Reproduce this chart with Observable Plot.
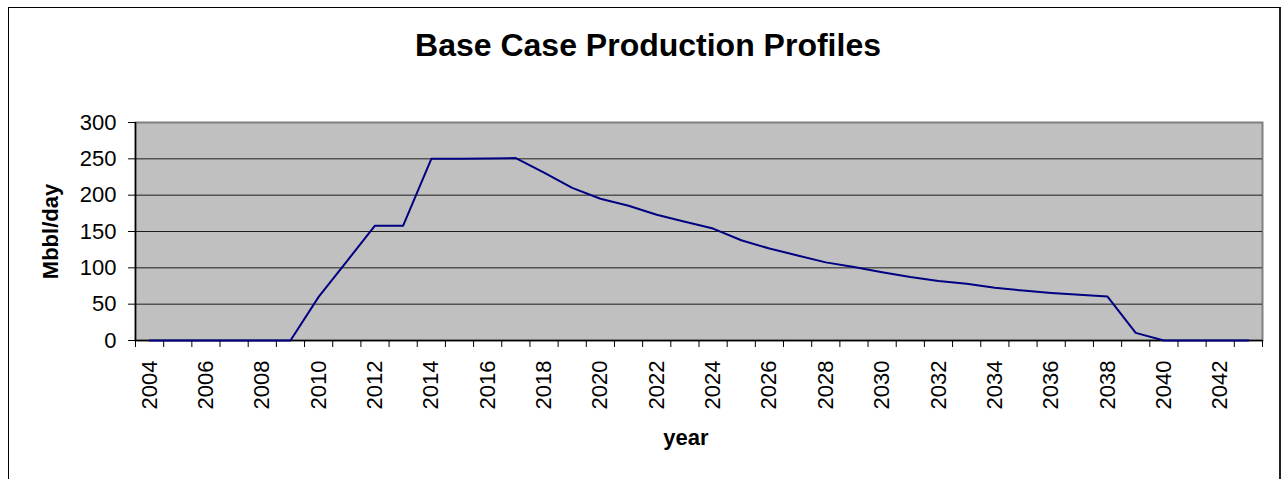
<!DOCTYPE html>
<html>
<head>
<meta charset="utf-8">
<script src="https://cdn.jsdelivr.net/npm/d3@7"></script>
<script src="https://cdn.jsdelivr.net/npm/@observablehq/plot@0.6"></script>
<style>
  html, body { margin: 0; padding: 0; background: #fff; overflow: hidden; }
  #wrap { position: relative; width: 1288px; height: 479px; }
  #border { position: absolute; left: 8px; top: 7px; width: 1273px; height: 500px;
            border-left: 1px solid #000; border-top: 1px solid #000; border-right: 2px solid #222; box-sizing: border-box; }
  #chart { position: absolute; left: 0; top: 0; }
</style>
</head>
<body>
<div id="wrap"><div id="border"></div><div id="chart"></div></div>
<script>
const years = [2004,2005,2006,2007,2008,2009,2010,2011,2012,2013,2014,2015,2016,2017,2018,2019,2020,2021,2022,2023,
               2024,2025,2026,2027,2028,2029,2030,2031,2032,2033,2034,2035,2036,2037,2038,2039,2040,2041,2042,2043];
const production = [0,0,0,0,0,0,60,109,158,158,250,250,250.5,251,231,210,195,185.5,173,163.5,
                    154,138,126.5,117,107.5,101,94,87.5,82,78,72.5,68.7,65.5,62.8,60.5,10.5,0,0,0,0];
const xLabelYears = [2004,2006,2008,2010,2012,2014,2016,2018,2020,2022,2024,2026,2028,2030,2032,2034,2036,2038,2040,2042];
const yTicks = [0,50,100,150,200,250,300];
const titleText = "Base Case Production Profiles";
const xLabel = "year";
const yLabel = "Mbbl/day";

const data = years.map((yr, i) => ({year: yr, value: production[i]}));
const bandEdges = years.map(y => y - 0.5).concat([years[years.length - 1] + 0.5]);
const xDomain = [bandEdges[0], bandEdges[bandEdges.length - 1]];

const chart = Plot.plot({
  width: 1288,
  height: 479,
  marginLeft: 135,
  marginRight: 26,
  marginTop: 122,
  marginBottom: 139,
  style: {fontFamily: "'Liberation Sans', Arial, sans-serif", color: "#000", background: "transparent", overflow: "visible"},
  x: {type: "linear", domain: xDomain},
  y: {type: "linear", domain: [0, 300]},
  marks: [
    Plot.frame({fill: "#c0c0c0"}),
    Plot.frame({stroke: "#808080", strokeWidth: 2}),
    Plot.gridY(yTicks.filter(v => v > 0 && v < 300), {stroke: "#000", strokeOpacity: 0.85, strokeWidth: 1}),
    Plot.ruleX([xDomain[0]], {stroke: "#000", strokeWidth: 1.5}),
    Plot.ruleY([0], {stroke: "#000", strokeWidth: 1.5}),
    Plot.axisY({ticks: yTicks, tickSize: 7, tickPadding: 12, fontSize: 22, label: null, tickFormat: d => String(d)}),
    Plot.axisX({ticks: bandEdges, tickSize: 7, tickFormat: () => "", label: null}),
    Plot.axisX({ticks: xLabelYears, tickSize: 0, tickPadding: 20, tickRotate: -90, fontSize: 22, label: null, tickFormat: d => String(d)}),
    Plot.line(data, {x: "year", y: "value", stroke: "#000080", strokeWidth: 2}),
    Plot.text([yLabel], {frameAnchor: "left", textAnchor: "middle", lineAnchor: "middle", dx: -85, rotate: -90, fontSize: 22, fontWeight: "bold", fill: "#000"}),
    Plot.text([xLabel], {frameAnchor: "bottom", textAnchor: "middle", lineAnchor: "middle", dy: 97, dx: -13, fontSize: 22, fontWeight: "bold", fill: "#000"}),
    Plot.text([titleText], {frameAnchor: "top", textAnchor: "middle", lineAnchor: "middle", dy: -77, dx: -51, fontSize: 32, fontWeight: "bold", fill: "#000"})
  ]
});
document.getElementById("chart").appendChild(chart);
</script>
</body>
</html>
